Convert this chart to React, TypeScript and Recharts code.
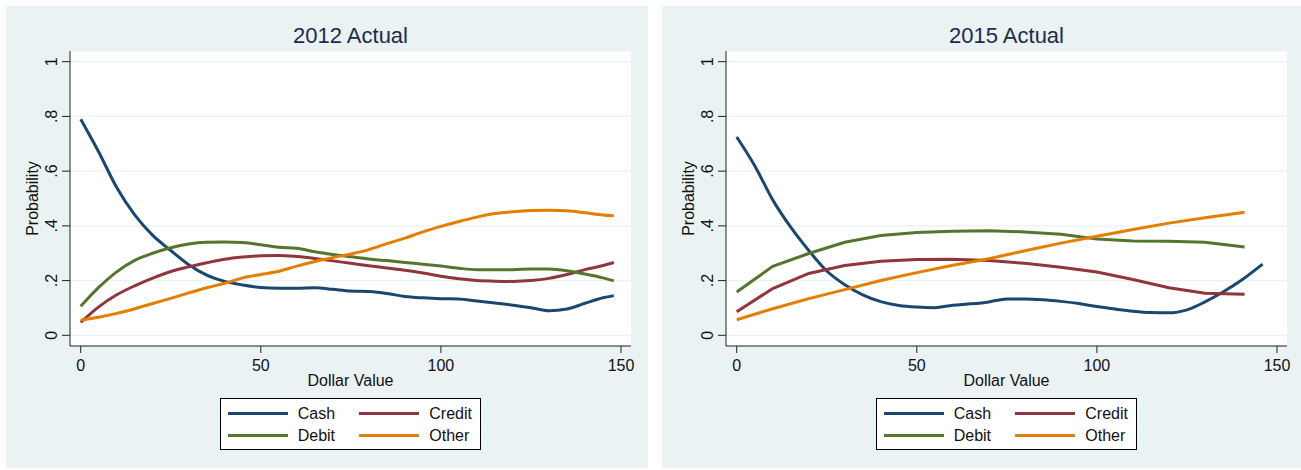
import { CartesianGrid, Label, Line, LineChart, XAxis, YAxis } from "recharts";

// 2012 smoothed probabilities, read every $5
const DOLLARS_2012 = [0, 5, 10, 15, 20, 25, 30, 35, 40, 45, 50, 55, 60, 65, 70, 75, 80, 85, 90, 95, 100, 105, 110, 115, 120, 125, 130, 135, 140, 145, 148];
const CASH_2012 = [0.79, 0.67, 0.54, 0.44, 0.365, 0.31, 0.258, 0.22, 0.197, 0.184, 0.175, 0.172, 0.172, 0.174, 0.168, 0.162, 0.16, 0.153, 0.142, 0.137, 0.134, 0.133, 0.125, 0.118, 0.11, 0.101, 0.09, 0.096, 0.117, 0.137, 0.145];
const CREDIT_2012 = [0.047, 0.104, 0.148, 0.181, 0.209, 0.233, 0.25, 0.265, 0.278, 0.286, 0.291, 0.292, 0.288, 0.281, 0.272, 0.263, 0.254, 0.246, 0.238, 0.228, 0.216, 0.207, 0.2, 0.198, 0.197, 0.2, 0.208, 0.222, 0.24, 0.255, 0.266];
const DEBIT_2012 = [0.106, 0.175, 0.232, 0.274, 0.3, 0.32, 0.334, 0.34, 0.341, 0.339, 0.331, 0.322, 0.318, 0.305, 0.295, 0.287, 0.279, 0.273, 0.266, 0.26, 0.253, 0.245, 0.24, 0.24, 0.24, 0.242, 0.242, 0.236, 0.224, 0.21, 0.199];
const OTHER_2012 = [0.055, 0.066, 0.08, 0.097, 0.116, 0.135, 0.155, 0.174, 0.19, 0.21, 0.222, 0.234, 0.253, 0.27, 0.284, 0.297, 0.313, 0.335, 0.355, 0.378, 0.398, 0.416, 0.432, 0.445, 0.452, 0.456, 0.457, 0.455, 0.448, 0.44, 0.437];

// 2015: cash read every $5, the rest every $10
const CASH_DOLLARS_2015 = [0, 5, 10, 15, 20, 25, 30, 35, 40, 45, 50, 55, 60, 65, 70, 75, 80, 85, 90, 95, 100, 105, 110, 115, 120, 125, 130, 135, 140, 146];
const CASH_2015 = [0.725, 0.62, 0.495, 0.395, 0.31, 0.235, 0.185, 0.148, 0.123, 0.109, 0.103, 0.101, 0.11, 0.115, 0.122, 0.133, 0.133, 0.13, 0.124, 0.116, 0.105, 0.096, 0.088, 0.083, 0.082, 0.093, 0.122, 0.158, 0.2, 0.26];
const DOLLARS_2015 = [0, 10, 20, 30, 40, 50, 60, 70, 80, 90, 100, 110, 120, 130, 141];
const CREDIT_2015 = [0.086, 0.171, 0.226, 0.255, 0.271, 0.277, 0.278, 0.273, 0.263, 0.249, 0.231, 0.204, 0.174, 0.154, 0.15];
const DEBIT_2015 = [0.158, 0.252, 0.299, 0.34, 0.365, 0.376, 0.38, 0.382, 0.378, 0.369, 0.352, 0.345, 0.344, 0.34, 0.323];
const OTHER_2015 = [0.057, 0.097, 0.134, 0.167, 0.2, 0.229, 0.256, 0.28, 0.309, 0.337, 0.362, 0.387, 0.41, 0.43, 0.45];

const X_TICKS = [0, 50, 100, 150];
const Y_TICKS = [0, 0.2, 0.4, 0.6, 0.8, 1];

const NAMES = ["Cash", "Credit", "Debit", "Other"];
const COLORS = ["#1a476f", "#90353b", "#55752f", "#e37e00"];

const FONT = '"Liberation Sans", Arial, sans-serif';
const BG = "#eaf2f3";
const INK = "#111";

type Pt = { x: number; p: number };
type Series = { name: string; color: string; rows: Pt[]; curve: "monotone" | "linear" };

const zip = (xs: number[], ys: number[]): Pt[] => xs.map((x, i) => ({ x, p: ys[i] }));

const fmtProb = (v: number) => (v === 0 ? "0" : v === 1 ? "1" : String(v).replace(/^0/, ""));

function YTick(props: any) {
  const { x, y, payload } = props;
  return (
    <text
      transform={`translate(${x - 4.7},${y}) rotate(-90)`}
      textAnchor="middle"
      fontSize={16}
      fontFamily={FONT}
      fill={INK}
    >
      {fmtProb(payload.value)}
    </text>
  );
}

function YTitle(props: any) {
  const vb = props.viewBox ?? { x: 0, y: 45, width: 64, height: 295 };
  return (
    <text
      transform={`translate(${vb.x + 32.3},${vb.y + vb.height / 2}) rotate(-90)`}
      textAnchor="middle"
      fontSize={16}
      fontFamily={FONT}
      fill={INK}
    >
      Probability
    </text>
  );
}

function XTitle(props: any) {
  const vb = props.viewBox ?? { x: 64, y: 340, width: 561, height: 50 };
  return (
    <text x={vb.x + vb.width / 2} y={vb.y + 40} textAnchor="middle" fontSize={16} fontFamily={FONT} fill={INK}>
      Dollar Value
    </text>
  );
}

function Panel({ title, series, left }: { title: string; series: Series[]; left: number }) {
  return (
    <div style={{ position: "absolute", left, top: 6, width: 642, height: 462, background: BG }}>
      <div
        style={{
          position: "absolute",
          left: 64,
          width: 561,
          top: 18.7,
          textAlign: "center",
          fontFamily: FONT,
          fontSize: 22,
          lineHeight: "22px",
          color: "#1c2b4e",
        }}
      >
        {title}
      </div>
      <LineChart width={642} height={462} margin={{ top: 45, right: 17, left: 0, bottom: 72 }}>
        <CartesianGrid vertical={false} stroke={BG} strokeWidth={1.2} fill="#fff" />
        <XAxis
          type="number"
          dataKey="x"
          domain={[0, 150]}
          ticks={X_TICKS}
          height={50}
          padding={{ left: 10.7, right: 10 }}
          tickSize={7}
          tickMargin={6.2}
          tick={{ fontSize: 16, fontFamily: FONT, fill: INK }}
          axisLine={{ stroke: "#222" }}
          tickLine={{ stroke: "#222" }}
        >
          <Label content={XTitle} />
        </XAxis>
        <YAxis
          type="number"
          domain={[0, 1]}
          ticks={Y_TICKS}
          width={64}
          padding={{ top: 10.7, bottom: 10.7 }}
          tickSize={8}
          tickMargin={0}
          tick={YTick}
          axisLine={{ stroke: "#222" }}
          tickLine={{ stroke: "#222" }}
        >
          <Label content={YTitle} />
        </YAxis>
        {series.map((s) => (
          <Line
            key={s.name}
            data={s.rows}
            dataKey="p"
            name={s.name}
            type={s.curve}
            stroke={s.color}
            strokeWidth={3}
            dot={false}
            activeDot={false}
            isAnimationActive={false}
          />
        ))}
      </LineChart>
      <div
        style={{
          position: "absolute",
          left: 214,
          top: 391.7,
          width: 261,
          height: 52.6,
          boxSizing: "border-box",
          border: "1px solid #000",
          background: "#fff",
          fontFamily: FONT,
          fontSize: 16,
          color: INK,
        }}
      >
        {series.map((s, i) => {
          const col = i % 2;
          const row = Math.floor(i / 2);
          const cy = 15 + row * 22;
          return (
            <div key={s.name}>
              <div
                style={{
                  position: "absolute",
                  left: 6.7 + col * 131.6,
                  top: cy - 1.5,
                  width: 60,
                  height: 3,
                  background: s.color,
                }}
              />
              <div
                style={{
                  position: "absolute",
                  left: 76.7 + col * 131.6,
                  top: cy - 9,
                  lineHeight: "18px",
                  whiteSpace: "nowrap",
                }}
              >
                {s.name}
              </div>
            </div>
          );
        })}
      </div>
    </div>
  );
}

const SERIES_2012: Series[] = [
  { name: NAMES[0], color: COLORS[0], rows: zip(DOLLARS_2012, CASH_2012), curve: "monotone" },
  { name: NAMES[1], color: COLORS[1], rows: zip(DOLLARS_2012, CREDIT_2012), curve: "monotone" },
  { name: NAMES[2], color: COLORS[2], rows: zip(DOLLARS_2012, DEBIT_2012), curve: "monotone" },
  { name: NAMES[3], color: COLORS[3], rows: zip(DOLLARS_2012, OTHER_2012), curve: "monotone" },
];

const SERIES_2015: Series[] = [
  { name: NAMES[0], color: COLORS[0], rows: zip(CASH_DOLLARS_2015, CASH_2015), curve: "monotone" },
  { name: NAMES[1], color: COLORS[1], rows: zip(DOLLARS_2015, CREDIT_2015), curve: "linear" },
  { name: NAMES[2], color: COLORS[2], rows: zip(DOLLARS_2015, DEBIT_2015), curve: "linear" },
  { name: NAMES[3], color: COLORS[3], rows: zip(DOLLARS_2015, OTHER_2015), curve: "linear" },
];

export default function App() {
  return (
    <div
      style={{
        position: "absolute",
        left: 0,
        top: 0,
        width: 1301,
        height: 470,
        background: "#fff",
        overflow: "hidden",
      }}
    >
      <Panel title="2012 Actual" series={SERIES_2012} left={6} />
      <Panel title="2015 Actual" series={SERIES_2015} left={662} />
    </div>
  );
}
